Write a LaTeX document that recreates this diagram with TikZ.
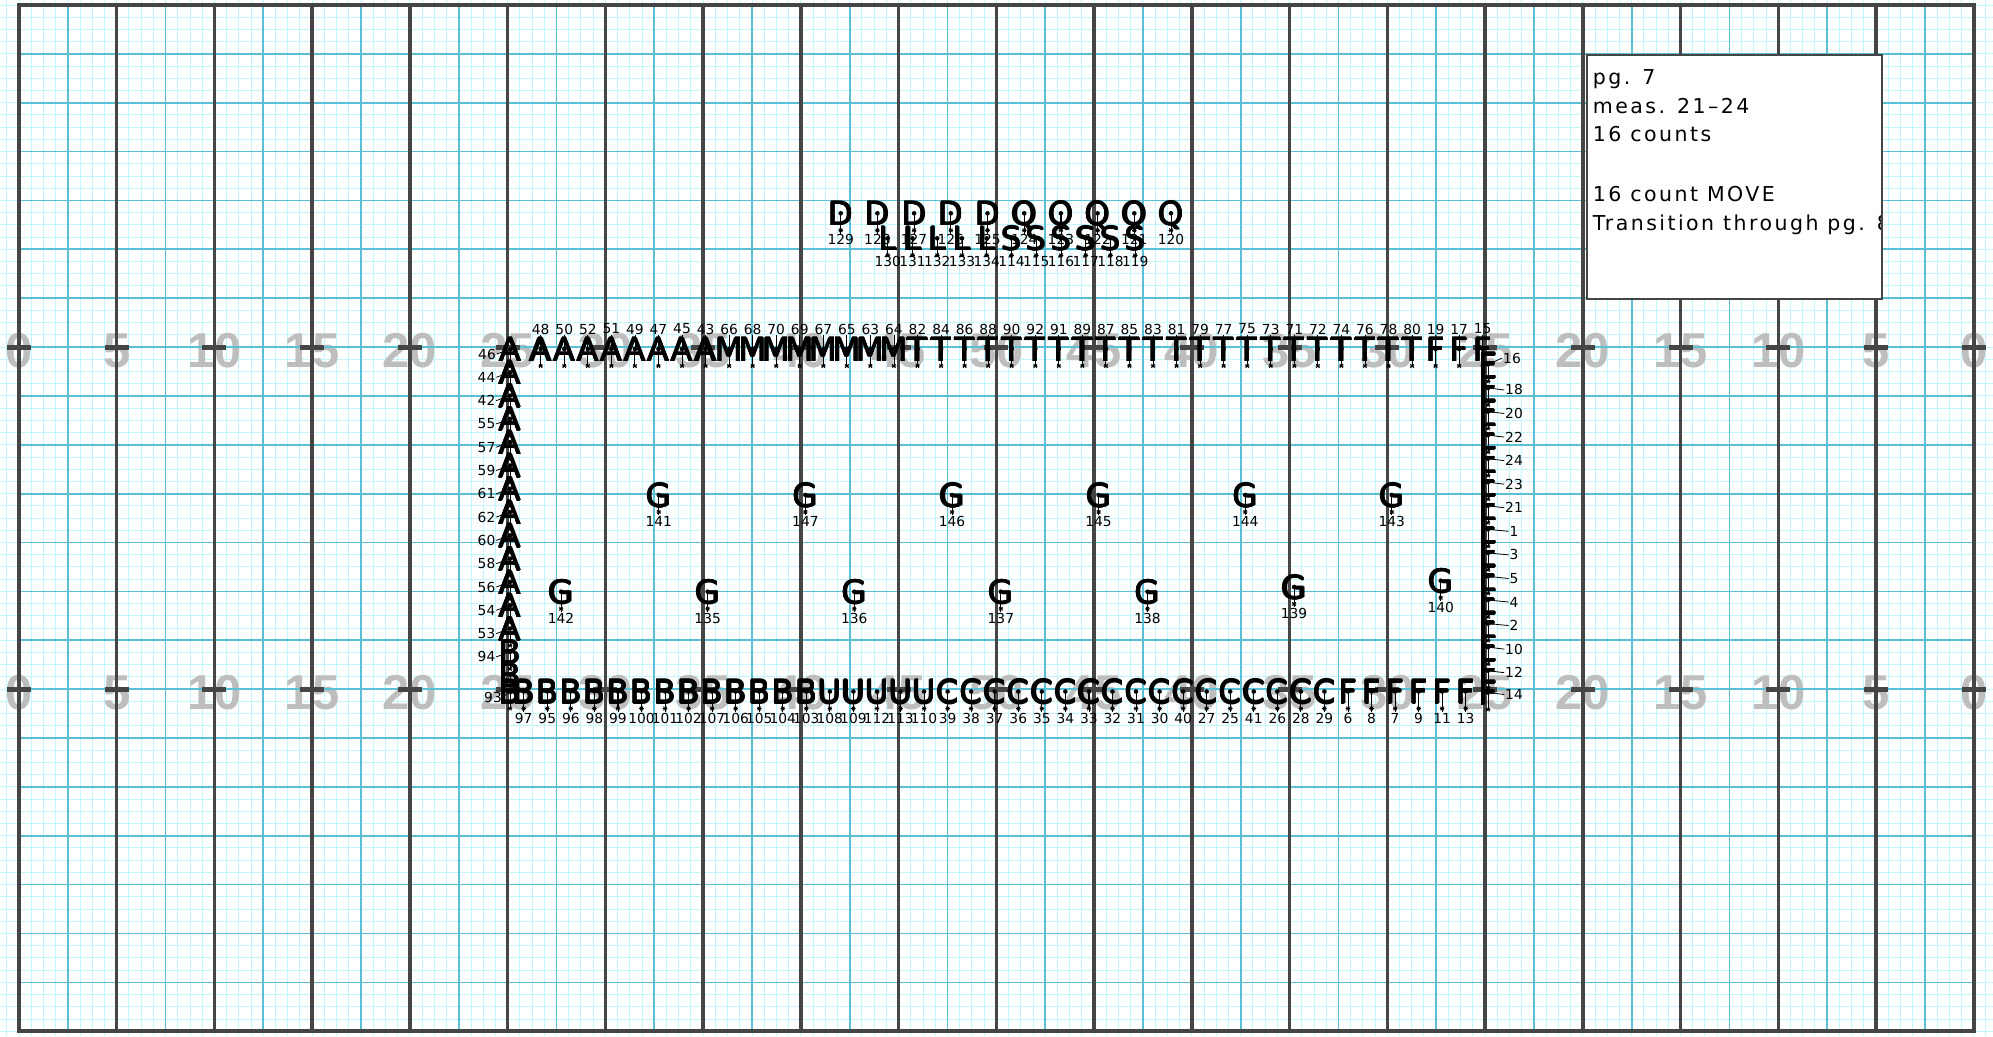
\documentclass[tikz,border=0pt]{standalone}
\usepackage{fontspec}
\setmainfont{DejaVu Sans}
\newfontfamily\yardfont{Liberation Sans}
\newfontfamily\boxfont{DejaVu Sans}[LetterSpace=12]
\newfontfamily\glyphfont{DejaVu Sans}
\definecolor{lightgrid}{HTML}{C2F5FC}
\definecolor{bluegrid}{HTML}{5BBFD6}
\definecolor{darkline}{HTML}{454545}
\definecolor{yardgray}{HTML}{BEBEBE}

\newcommand\perfbase[4]{%
  \coordinate (d#4) at ({#1},{#2});
  \node[pglyph] (g#4) at ({#1},{#2+12}) {#3};
  \node[pglyph] (g#4w) at ({#1-0.6},{#2+12}) {#3};
  \node[pglyph] (g#4e) at ({#1+0.6},{#2+12}) {#3};
  \node[pglyph] (g#4n) at ({#1},{#2+11.4}) {#3};
  \node[pglyph] (g#4s) at ({#1},{#2+12.6}) {#3};
  \coordinate (s#4) at ({#1},{#2+17});
  \draw[ptail] (d#4) -- (s#4);
  \draw[ptail] (s#4) +(-2.3,0) -- +(2.3,0) (s#4) +(-1.6,-1.8) -- +(1.6,1.8) (s#4) +(-1.6,1.8) -- +(1.6,-1.8);
  \fill (d#4) circle (2.3);
}
\newcommand\perfU[4]{\perfbase{#1}{#2}{#3}{#4}%
  \node[plab] (n#4) at ({#1},{#2-20}) {#4};
  \draw[plead] (n#4.south) -- (d#4);}
\newcommand\perfD[4]{\perfbase{#1}{#2}{#3}{#4}%
  \node[plab] (n#4) at ({#1},{#2+26.5}) {#4};
  \draw[plead] (d#4) -- (n#4.north);}
\newcommand\perfL[4]{\perfbase{#1}{#2}{#3}{#4}%
  \node[plab] (n#4) at ({#1-23.5},{#2+5}) {#4};
  \draw[plead] (n#4.east) -- (d#4);}
\newcommand\perfR[4]{\perfbase{#1}{#2}{#3}{#4}%
  \node[plab] (n#4) at ({#1+26},{#2+2}) {#4};
  \draw[plead] (d#4) -- (n#4.west);}

\begin{document}
\begin{tikzpicture}[x=1pt,y=-1pt,
  pglyph/.style={font=\glyphfont\fontsize{32.5}{33}\selectfont,inner sep=0pt,anchor=base},
  plab/.style={font=\fontsize{13.8}{14}\selectfont,inner sep=0.8pt},
  plead/.style={line width=0.8pt},
  ptail/.style={line width=0.9pt},
  yardnum/.style={font=\yardfont\bfseries\fontsize{49}{49}\selectfont,text=yardgray,inner sep=0pt},
  boxtxt/.style={font=\boxfont\fontsize{20.5}{24}\selectfont,anchor=base west,inner sep=0pt}]
\useasboundingbox (0,0) rectangle (1993,1036);
\fill[white] (0,0) rectangle (1993,1036);
% light grid
\foreach \k in {-1,...,161} \draw[lightgrid,line width=1pt] ({19+12.217*\k},0) -- ({19+12.217*\k},1036);
\foreach \k in {0,...,84} \draw[lightgrid,line width=1pt] (0,{5+12.217*\k}) -- (1993,{5+12.217*\k});
% yard numbers
\foreach \lab [count=\i from 0] in {0,5,10,15,20,25,30,35,40,45,50,45,40,35,30,25,20,15,10,5,0} {
  \node[yardnum] (ytop\i) at ({19+97.736*\i},351) {\lab};
  \node[yardnum] (ybot\i) at ({19+97.736*\i},693) {\lab};
}
% blue grid
\foreach \k in {0,...,19} \draw[bluegrid,line width=1.7pt] ({19+12.217*(8*\k+4)},5) -- ({19+12.217*(8*\k+4)},1031);
\foreach \k in {1,...,20} \draw[bluegrid,line width=1.7pt] (19,{5+12.217*4*\k}) -- (1974,{5+12.217*4*\k});
% dark yard lines
\foreach \k in {0,...,20} \draw[darkline,line width=3.5pt] ({19+97.736*\k},5) -- ({19+97.736*\k},1031);
\draw[darkline,line width=3.5pt] (19,5) rectangle (1974,1031);
% hash bars
\foreach \k in {0,...,20} {
  \fill[darkline] ({19+97.736*\k-12},344.6) rectangle ({19+97.736*\k+12},349.6);
  \fill[darkline] ({19+97.736*\k-12},686.7) rectangle ({19+97.736*\k+12},691.7);
}
% info box
\filldraw[fill=white,draw=darkline,line width=2pt] (1586.7,55) rectangle (1881.7,299.3);
\begin{scope}
\clip (1587.7,56) rectangle (1880.7,298.3);
\node[boxtxt] (t1) at (1592.7,84.3) {pg. 7};
\node[boxtxt] (t2) at (1592.7,113.3) {meas. 21–24};
\node[boxtxt] (t3) at (1592.7,141.7) {16 counts};
\node[boxtxt] (t4) at (1592.7,201.7) {16 count MOVE};
\node[boxtxt] (t5) at (1592.7,230) {Transition through pg. 8};
\end{scope}
% top row
\perfL{510.5}{349}{A}{46}
\foreach \lab/\ltr [count=\i from 0] in {48/A,50/A,52/A,51/A,49/A,47/A,45/A,43/A,
  66/M,68/M,70/M,69/M,67/M,65/M,63/M,64/M,
  82/T,84/T,86/T,88/T,90/T,92/T,91/T,89/T,87/T,85/T,83/T,81/T,79/T,77/T,75/T,73/T,71/T,72/T,74/T,76/T,78/T,80/T,
  19/F,17/F,15/F} {
  \pgfmathsetmacro\xx{540.7+\i*23.55}
  \perfU{\xx}{349}{\ltr}{\lab}
}
% left column
\foreach \lab/\ltr [count=\i from 1] in {44/A,42/A,55/A,57/A,59/A,61/A,62/A,60/A,58/A,56/A,54/A,53/A,94/B} {
  \pgfmathsetmacro\yy{349+\i*23.3}
  \perfL{510}{\yy}{\ltr}{\lab}
}
\perfbase{510}{675}{B}{x1}
% right column
\perfbase{1488}{364.4}{F}{16}
\node[plab] (n16) at (1512,358) {16};
\draw[plead] (d16) -- (n16.west);
\foreach \lab [count=\i from 1] in {18,20,22,24,23,21,1,3,5,4,2,10,12} {
  \pgfmathsetmacro\yy{364.4+\i*23.56}
  \perfR{1488}{\yy}{F}{\lab}
}
% bottom row
\perfbase{510}{691.5}{B}{93}
\node[plab] (n93) at (493,697) {93};
\draw[plead] (n93.east) -- (d93);
\foreach \lab/\ltr [count=\i from 0] in {97/B,95/B,96/B,98/B,99/B,100/B,101/B,102/B,107/B,106/B,105/B,104/B,103/B,
  108/U,109/U,112/U,113/U,110/U,
  39/C,38/C,37/C,36/C,35/C,34/C,33/C,32/C,31/C,30/C,40/C,27/C,25/C,41/C,26/C,28/C,29/C,
  6/F,8/F,7/F,9/F,11/F,13/F} {
  \pgfmathsetmacro\xx{523.7+\i*23.55}
  \perfD{\xx}{691.5}{\ltr}{\lab}
}
\perfR{1488}{692.5}{F}{14}
% G rows
\foreach \lab [count=\i from 0] in {141,147,146,145,144,143} {
  \pgfmathsetmacro\xx{23.5+12.217*(52+12*\i)}
  \perfD{\xx}{495}{G}{\lab}
}
\foreach \lab/\yy [count=\i from 0] in {142/591.7,135/591.7,136/591.7,137/591.7,138/591.7,139/587,140/580.7} {
  \pgfmathsetmacro\xx{23.5+12.217*(44+12*\i)}
  \perfD{\xx}{\yy}{G}{\lab}
}
% D / Q row
\foreach \lab/\ltr [count=\i from 0] in {129/D,128/D,127/D,126/D,125/D,124/Q,123/Q,122/Q,121/Q,120/Q} {
  \pgfmathsetmacro\xx{840.7+\i*36.7}
  \perfD{\xx}{213.3}{\ltr}{\lab}
}
% L / S row
\foreach \lab/\ltr [count=\i from 0] in {130/L,131/L,132/L,133/L,134/L,114/S,115/S,116/S,117/S,118/S,119/S} {
  \pgfmathsetmacro\xx{887.7+\i*24.75}
  \pgfmathsetmacro\yl{238.3}
  \perfbase{\xx}{\yl}{\ltr}{\lab}
  \node[plab] (n\lab) at ({\xx},{\yl+23.4}) {\lab};
  \draw[plead] (d\lab) -- (n\lab.north);
}
\end{tikzpicture}
\end{document}
